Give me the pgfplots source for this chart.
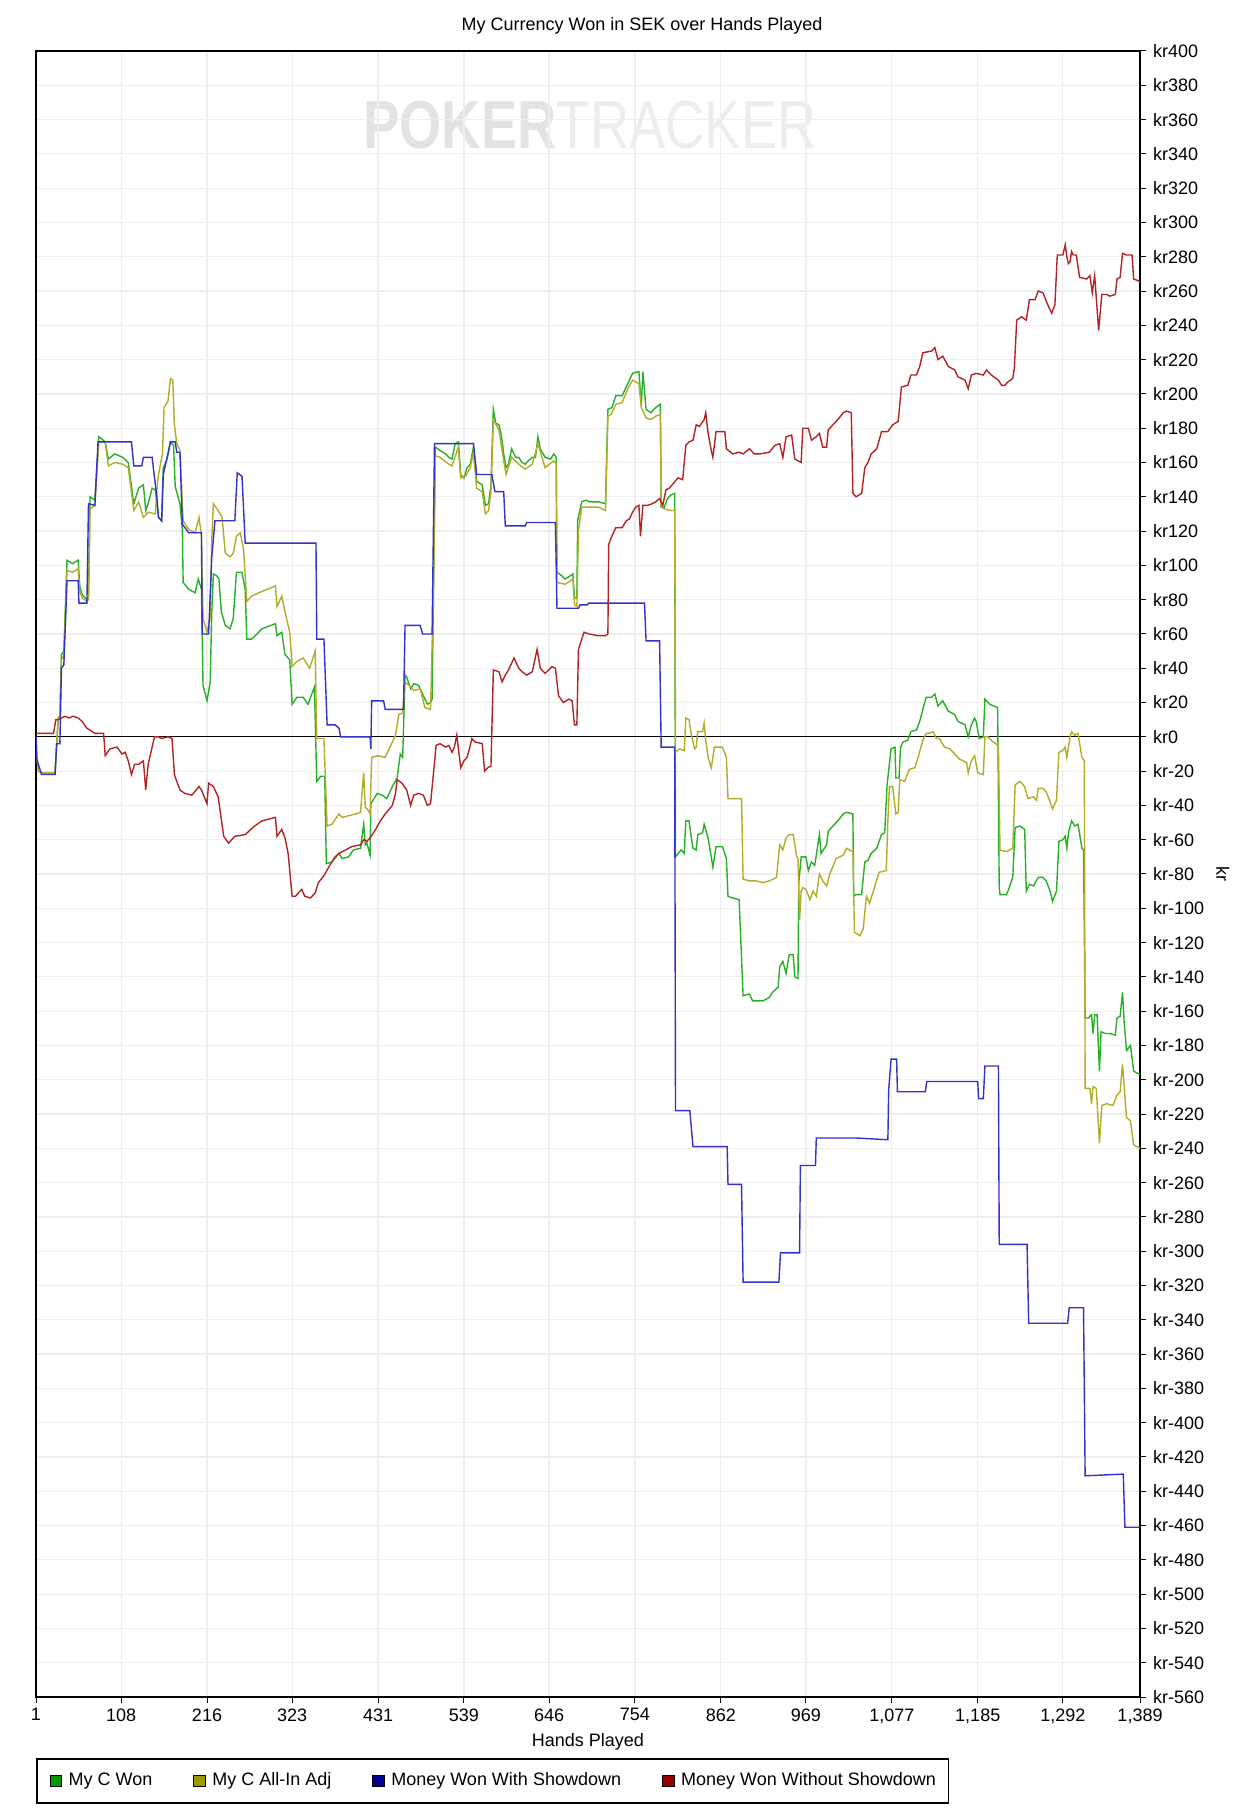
\documentclass[border=0pt]{standalone}
\usepackage{pgfplots}
\pgfplotsset{compat=1.18}
\usepackage{fontspec}
\usepackage{graphicx}
\setmainfont{Liberation Sans}
\definecolor{lgreen}{RGB}{0,153,0}
\definecolor{lolive}{RGB}{153,153,0}
\definecolor{lblue}{RGB}{0,0,153}
\definecolor{lred}{RGB}{153,0,0}
\definecolor{cgreen}{RGB}{40,175,40}
\definecolor{colive}{RGB}{178,172,40}
\definecolor{cblue}{RGB}{50,50,200}
\definecolor{cred}{RGB}{180,35,35}
\definecolor{gridc}{RGB}{238,238,238}
\begin{document}
\begin{tikzpicture}
\useasboundingbox (-18pt,-58pt) rectangle (599pt,848.5pt);
\node at (277pt,786pt) {\scalebox{0.8}[1]{\fontsize{34}{34}\selectfont\textcolor{black!11}{\bfseries POKER}\textcolor{black!7}{TRACKER}}};
\begin{axis}[
  at={(0pt,0pt)}, anchor=south west,
  width=552pt, height=823pt, scale only axis,
  xmin=1, xmax=1389, ymin=-560, ymax=400,
  xtick={1,108,216,323,431,539,646,754,862,969,1077,1185,1292,1389},
  xticklabels={1,108,216,323,431,539,646,754,862,969,{1,077},{1,185},{1,292},{1,389}},
  ytick={-560,-540,...,400},
  yticklabel={kr\pgfmathparse{int(round(\tick))}\pgfmathresult},
  xtick pos=bottom, ytick pos=right, yticklabel pos=right,
  tick align=outside, major tick length=3pt,
  tick style={black, line width=0.5pt},
  grid=major, major grid style={draw=gridc, line width=0.6pt},
  axis line style={black, line width=0.6pt},
  ticklabel style={font=\fontsize{9}{10}\selectfont},
  xticklabel style={yshift=0.8pt},
  legend columns=4,
  legend image code/.code={\draw[#1, draw=black, line width=0.4pt] (0pt,-2.9pt) rectangle (5.8pt,2.9pt);},
  legend style={at={(rel axis cs:0,0)}, anchor=north west, yshift=-30.5pt,
    draw=black, line width=0.8pt, font=\fontsize{9}{10}\selectfont,
    inner xsep=6.4pt, inner ysep=5pt, nodes={inner xsep=0pt},
    /tikz/every odd column/.append style={column sep=3.3pt},
    /tikz/every even column/.append style={column sep=20.5pt}},
  every axis plot/.append style={line width=0.7pt},
]
\draw[black, line width=0.6pt] (axis cs:1,0) -- (axis cs:1389,0);
% My C Won
\addplot[cgreen, forget plot] coordinates {
(1,0) (2,-12) (4,-20) (8,-21) (25,-21) (27,-4) (29,11) (31,12) (33,48) (36,50) (40,103) (47,101) (54,103) (56,88) (59,83) (65,80) (67,82) (69,140) (75,138) (80,175) (88,172) (92,162) (100,165) (110,163) (117,160) (124,136) (130,145) (136,147) (139,132) (142,136) (147,145) (151,144) (155,128) (159,126) (161,157) (165,161) (170,172) (174,170) (176,146) (182,136) (185,121) (186,90) (193,86) (201,84) (205,92) (209,86) (211,30) (216,21) (220,32) (222,73) (224,95) (228,94) (231,92) (234,73) (239,65) (245,63) (249,69) (253,96) (260,96) (264,86) (266,57) (272,57) (281,61) (285,63) (302,66) (304,59) (310,61) (314,48) (320,45) (323,19) (329,23) (337,23) (343,19) (351,29) (354,-26) (359,-23) (364,-23) (366,-74)
(373,-73) (382,-68) (386,-71) (394,-70) (400,-66) (409,-65) (413,-51) (415,-63) (417,-62) (421,-69) (422,-39) (430,-33) (436,-34) (442,-36) (449,-29) (455,-24) (459,-10) (462,-12) (465,36) (467,35) (472,28) (476,31) (482,30) (486,26) (493,19) (497,20) (499,22) (501,94) (503,169) (509,167) (516,165) (520,163) (524,162) (528,171) (532,172) (535,153) (539,151) (543,157) (547,159) (551,169) (555,149) (562,147) (566,135) (570,136) (573,147) (576,191) (579,183) (583,182) (586,176) (589,165) (592,157) (595,159) (599,168) (604,163) (608,163) (612,160) (616,159) (620,161) (625,163) (629,163) (632,175) (635,168) (641,163) (648,162) (652,165) (655,163) (656,96) (662,94) (666,92) (673,94) (676,95) (678,81) (681,81) (682,126) (687,137) (692,138) (698,137) (708,137)
(717,136) (720,191) (725,192) (730,199) (738,199) (745,206) (751,212) (759,213) (762,193) (764,213) (768,191) (774,189) (780,192) (786,194) (787,134) (791,134) (795,139) (799,141) (804,142) (805,-70) (812,-66) (816,-68) (818,-49) (822,-49) (825,-59) (827,-65) (831,-66) (833,-57) (839,-56) (841,-51) (846,-59) (852,-76) (856,-64) (864,-64) (869,-71) (871,-93) (877,-94) (885,-95) (890,-151) (898,-150) (902,-154) (915,-154) (923,-152) (927,-149) (934,-146) (936,-134) (940,-131) (944,-138) (948,-127) (953,-127) (955,-140) (959,-141) (960,-85) (963,-70) (969,-70) (972,-78) (976,-73) (980,-75) (986,-57) (988,-68) (995,-63) (997,-55) (1003,-52) (1009,-49) (1016,-45) (1020,-44) (1028,-45) (1029,-93) (1032,-92) (1039,-92) (1043,-73) (1047,-72) (1051,-68) (1058,-65) (1064,-57) (1068,-56) (1071,-28)
(1076,-7) (1081,-6) (1082,-24) (1086,-24) (1088,-6) (1091,-3) (1097,-2) (1101,3) (1108,4) (1112,9) (1116,16) (1120,23) (1127,23) (1131,25) (1135,18) (1141,21) (1148,15) (1156,13) (1160,9) (1169,7) (1173,0) (1177,7) (1181,11) (1183,9) (1187,-1) (1192,0) (1194,22) (1200,19) (1210,17)
(1212,-88) (1213,-92) (1221,-92) (1223,-90) (1229,-82) (1232,-53) (1238,-52) (1244,-54) (1246,-90) (1250,-86) (1255,-87) (1261,-82) (1267,-82) (1271,-84) (1276,-90) (1279,-96) (1284,-90) (1287,-61) (1292,-60) (1295,-58) (1297,-65) (1299,-56) (1303,-49) (1307,-52) (1311,-51) (1316,-65) (1318,-66) (1320,-164) (1324,-164) (1328,-162) (1330,-173) (1332,-162) (1335,-162) (1338,-195) (1340,-172) (1345,-173) (1351,-173) (1358,-174) (1360,-164) (1364,-163) (1367,-149) (1369,-166) (1372,-183) (1377,-180) (1381,-195) (1389,-197)
};
% My C All-In Adj
\addplot[colive, forget plot] coordinates {
(1,0) (2,-12) (4,-20) (8,-21) (25,-21) (27,-4) (29,11) (31,12) (33,45) (36,47) (40,97) (47,96) (54,98) (56,85) (59,81) (65,79) (67,80) (69,133) (75,135) (80,172) (88,172) (92,158) (100,160) (110,159) (117,157) (124,132) (130,137) (136,128) (142,131) (151,130) (154,150) (157,158) (160,165) (162,192) (167,196) (170,209) (173,208) (175,182) (178,171) (182,167) (185,136) (186,126) (193,121) (201,119) (206,128) (209,117) (211,69) (216,61) (220,69) (222,115) (224,136) (230,132) (235,128) (239,107) (245,105) (249,107) (253,117) (258,119) (262,109) (266,79) (272,82) (281,84) (302,88) (304,76) (310,82) (314,73) (320,61) (323,41) (329,44) (337,46) (345,40) (352,50) (354,-1)
(358,-1) (363,-1) (367,-52) (373,-51) (382,-45) (386,-47) (394,-46) (403,-45) (409,-44) (413,-21) (415,-41) (419,-43) (421,-45) (423,-12) (431,-11) (440,-12) (446,-6) (453,1) (457,13) (462,14) (465,32) (470,30) (476,27) (484,28) (490,17) (497,16) (501,92) (503,164) (509,163) (520,159) (524,158) (532,169) (535,151) (541,152) (547,157) (551,166) (555,145) (562,143) (566,130) (570,132) (573,143) (576,185) (583,179) (589,161) (592,153) (599,163) (608,159) (616,156) (625,159) (632,171) (641,157) (652,161) (655,159) (656,90) (666,89) (673,91) (676,92) (678,77) (681,76) (683,120) (687,134) (696,134) (708,134)
(717,132) (720,187) (724,188) (730,194) (738,195) (745,203) (751,208) (759,206) (762,192) (768,186) (774,185) (780,187) (786,188) (787,134) (791,133) (799,132) (804,132) (805,-9) (810,-7) (816,-8) (818,11) (822,10) (825,1) (829,-7) (831,-6) (833,3) (839,3) (841,8) (843,-2) (846,-12) (850,-18) (854,-6) (864,-6) (869,-12) (871,-36) (879,-36) (888,-36) (890,-83) (898,-84) (906,-84) (915,-85) (923,-84) (932,-82) (936,-63) (940,-66) (944,-59) (948,-57) (953,-57) (957,-69) (959,-71) (961,-107) (963,-90) (965,-88) (969,-89) (974,-95) (978,-90) (982,-93) (986,-80) (990,-84) (995,-87) (999,-80) (1007,-71) (1016,-69) (1020,-65) (1028,-67) (1030,-114) (1037,-116) (1041,-112) (1045,-93) (1049,-97)
(1055,-88) (1061,-79) (1070,-78) (1072,-49) (1074,-29) (1078,-29) (1082,-45) (1085,-44) (1087,-25) (1093,-26) (1099,-19) (1106,-18) (1110,-12) (1116,-2) (1120,2) (1124,2) (1129,3) (1133,-1) (1137,-1) (1143,-6) (1150,-7) (1156,-10) (1162,-13) (1171,-15) (1173,-21) (1177,-14) (1181,-11) (1185,-21) (1192,-22) (1194,0) (1198,0) (1204,-3) (1208,-4) (1211,-6)
(1213,-66) (1221,-67) (1229,-65) (1232,-28) (1238,-26) (1244,-29) (1248,-36) (1255,-35) (1259,-37) (1261,-30) (1267,-30) (1271,-32) (1276,-38) (1279,-42) (1284,-37) (1287,-9) (1292,-8) (1295,-6) (1297,-12) (1301,0) (1303,3) (1307,1) (1311,2) (1316,-12) (1319,-14) (1320,-205) (1326,-205) (1328,-214) (1330,-204) (1334,-205) (1338,-237) (1341,-215) (1347,-214) (1355,-215) (1360,-209) (1364,-207) (1367,-191) (1372,-222) (1377,-224) (1381,-238) (1389,-240)
};
% Money Won With Showdown
\addplot[cblue, forget plot] coordinates {
(1,0) (2,-13) (8,-22) (25,-22) (27,-4) (31,-4) (33,40) (36,42) (40,91) (54,91) (55,78) (65,78) (67,136) (75,135) (79,172) (121,172) (124,158) (134,158) (136,163) (147,163) (150,151) (153,140) (155,128) (159,126) (161,153) (167,165) (170,172) (176,172) (178,166) (182,166) (185,124) (193,119) (209,119) (210,60) (218,60) (222,105) (226,126) (251,126) (254,154) (260,152) (264,113) (352,113)
(353,113) (354,57) (363,57) (367,7) (377,7) (382,5) (384,0) (421,0) (422,-7) (423,21) (438,21) (440,16) (463,16) (465,65) (484,65) (487,60) (499,60) (502,171) (551,171) (555,153) (574,153) (578,143) (589,143) (591,123) (616,123) (618,125) (654,125) (656,75) (683,75) (685,77) (694,77) (696,78)
(766,78) (768,56) (785,56) (787,-6) (804,-6) (805,-218) (823,-218) (827,-239) (870,-239) (871,-261) (888,-261) (890,-318) (935,-318) (937,-301) (961,-301) (962,-250) (981,-250) (982,-234) (1033,-234) (1072,-235) (1073,-206) (1076,-188) (1083,-188) (1084,-207) (1119,-207) (1121,-201) (1185,-201) (1186,-211) (1192,-211) (1194,-192) (1211,-192) (1212,-296) (1247,-296) (1249,-342) (1298,-342) (1300,-333) (1318,-333) (1320,-431) (1368,-430) (1370,-461) (1389,-461)
};
% Money Won Without Showdown
\addplot[cred, forget plot] coordinates {
(1,2) (23,2) (26,10) (29,10) (33,11) (38,12) (42,11) (48,12) (54,11) (59,9) (65,5) (75,2) (86,2) (88,-11) (94,-7) (103,-6) (109,-10) (113,-9) (117,-14) (121,-22) (125,-16) (130,-16) (136,-14) (139,-31) (142,-16) (150,0) (155,0) (159,-1) (167,0) (172,-1) (175,-22) (178,-26) (182,-31) (188,-33) (197,-34) (206,-29) (209,-31) (216,-39) (218,-27) (224,-29) (230,-35) (237,-58) (243,-62) (251,-58) (264,-57) (276,-52) (285,-49) (302,-47) (304,-58) (310,-54) (314,-59) (318,-68) (323,-93) (327,-93) (335,-89) (339,-93) (346,-94) (352,-91)
(356,-85) (363,-81) (369,-76) (377,-70) (382,-68) (390,-66) (398,-64) (409,-63) (413,-60) (417,-61) (421,-59) (428,-54) (434,-49) (440,-45) (449,-40) (453,-33) (455,-25) (461,-27) (467,-31) (472,-40) (476,-34) (482,-33) (488,-34) (493,-40) (497,-39) (501,-20) (504,-5) (509,-4) (516,-6) (520,-5) (524,-9) (527,-6) (530,1) (535,-18) (539,-14) (543,-12) (547,-5) (549,-1) (553,-3) (562,-4) (565,-20) (569,-18) (573,-17) (576,39) (583,38) (587,32) (591,36) (595,39) (602,46) (608,40) (612,38) (618,36) (625,38) (631,51) (635,40) (641,37) (650,41) (654,40) (658,24) (664,20) (671,22) (675,21) (678,7) (681,7) (683,51) (690,61) (696,60) (708,59)
(717,59) (720,60) (721,112) (724,116) (730,122) (738,122) (743,126) (747,127) (751,131) (755,134) (759,135) (761,117) (764,135) (770,135) (776,136) (780,137) (785,139) (789,135) (793,144) (797,145) (801,147) (808,151) (814,150) (818,170) (822,172) (827,173) (831,182) (835,181) (841,185) (843,189) (846,177) (850,167) (852,163) (856,178) (862,178) (867,178) (869,168) (877,165) (885,166) (890,165) (898,168) (904,165) (911,165) (923,166) (930,170) (936,171) (940,163) (944,175) (951,176) (955,162) (963,160) (965,180) (972,180) (976,173) (982,175) (986,177) (990,169) (995,169) (997,179) (1003,182) (1009,185) (1016,189) (1020,190) (1026,189) (1028,142) (1032,140) (1039,142) (1043,157) (1047,160) (1051,165) (1058,168) (1064,178) (1072,178)
(1078,182) (1085,184) (1089,204) (1097,205) (1101,211) (1108,211) (1112,216) (1116,224) (1127,225) (1131,227) (1135,220) (1141,222) (1148,216) (1156,214) (1160,210) (1169,208) (1173,203) (1177,211) (1183,212) (1192,211) (1196,214) (1202,211) (1211,208) (1215,205) (1219,205) (1223,207) (1229,209) (1231,215) (1234,243) (1240,245) (1246,243) (1250,255) (1257,255) (1261,260) (1267,259) (1273,252) (1278,247) (1282,252) (1285,281) (1292,281) (1295,287) (1297,280) (1299,276) (1301,277) (1303,283) (1305,281) (1309,281) (1313,268) (1322,267) (1326,269) (1329,259) (1332,269) (1337,237) (1341,258) (1347,258) (1351,257) (1358,258) (1360,267) (1364,268) (1367,282) (1372,281) (1379,281) (1381,267) (1387,266) (1389,265)
};
\addlegendimage{fill=lgreen}
\addlegendentry{My C Won}
\addlegendimage{fill=lolive}
\addlegendentry{My C All-In Adj}
\addlegendimage{fill=lblue}
\addlegendentry{Money Won With Showdown}
\addlegendimage{fill=lred}
\addlegendentry{Money Won Without Showdown}
\end{axis}
\node[font=\fontsize{9}{10}\selectfont] at (303pt,835.8pt) {My Currency Won in SEK over Hands Played};
\node[font=\fontsize{9}{10}\selectfont] at (276pt,-22.5pt) {Hands Played};
\node[font=\fontsize{9}{10}\selectfont, rotate=-90] at (593.5pt,411.5pt) {kr};
\end{tikzpicture}
\end{document}
